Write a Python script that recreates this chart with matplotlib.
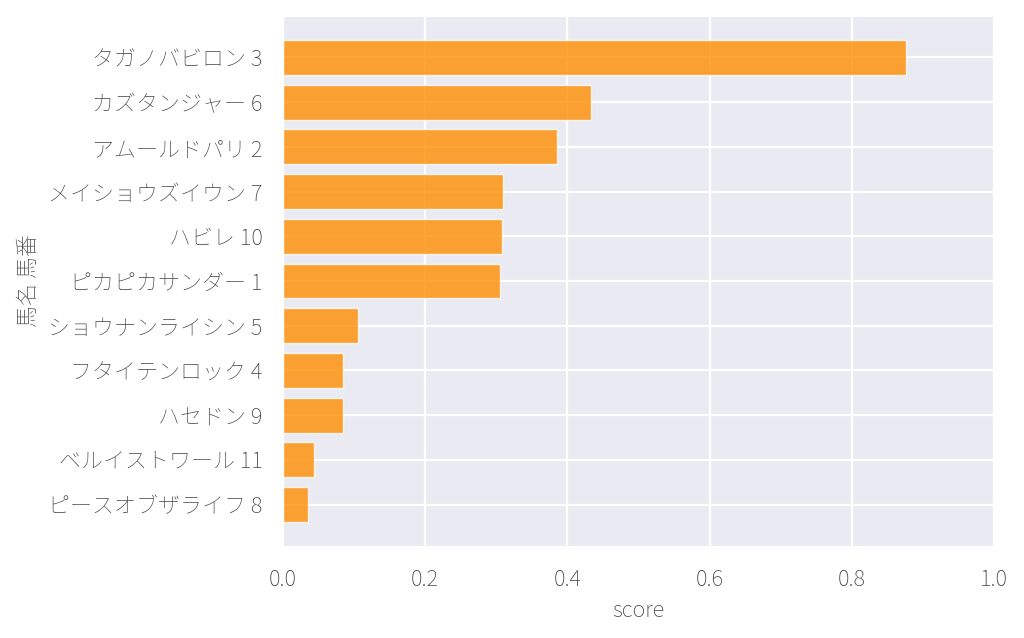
import matplotlib
matplotlib.use("Agg")
import matplotlib.pyplot as plt
import seaborn as sns

# horse name + number, top to bottom as shown
labels = ["タガノバビロン 3", "カズタンジャー 6", "アムールドパリ 2", "メイショウズイウン 7",
          "ハビレ 10", "ピカピカサンダー 1", "ショウナンライシン 5", "フタイテンロック 4",
          "ハセドン 9", "ベルイストワール 11", "ピースオブザライフ 8"]
scores = [0.876, 0.433, 0.386, 0.310, 0.308, 0.306, 0.106, 0.085, 0.085, 0.044, 0.035]
xticks = [0.0, 0.2, 0.4, 0.6, 0.8, 1.0]

sns.set_style("darkgrid")
plt.rcParams['grid.linewidth'] = 1.6
plt.rcParams['font.family'] = ['Noto Sans CJK JP', 'DejaVu Sans']
plt.rcParams['font.weight'] = 100

fig = plt.figure(figsize=(10.24, 6.38), dpi=100)
ax = fig.add_axes([0.276, 0.144, 0.695, 0.831])

ax.barh(labels, scores, height=0.78, color='darkorange', alpha=0.8,
        edgecolor='white', linewidth=1)
ax.invert_yaxis()
ax.set_xlim(0, 1.0)
ax.set_xticks(xticks)
ax.set_xticklabels([f"{t:.1f}" for t in xticks])
ax.tick_params(axis='both', labelsize=15.8, labelcolor='0.25', pad=11)
ax.tick_params(axis='x', pad=12)
ax.set_xlabel("score", fontsize=15.8, color='0.25', fontweight=100, labelpad=6)
ax.set_ylabel("馬名 馬番", fontsize=15.8, color='0.25', fontweight=100, labelpad=6)

fig.savefig("out.png", dpi=100)
